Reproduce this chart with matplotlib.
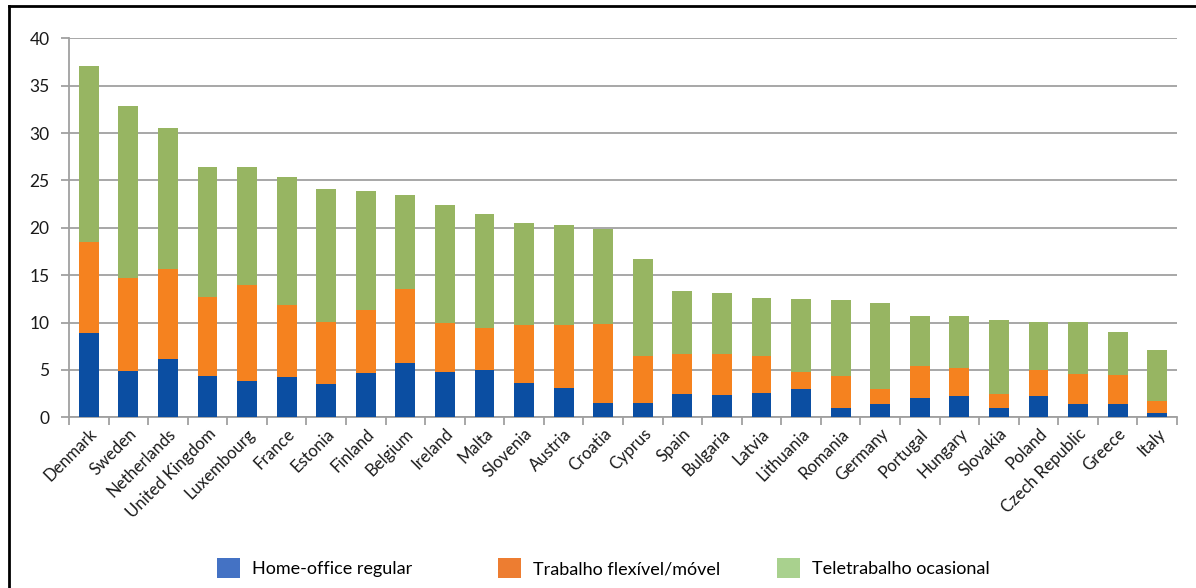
import matplotlib
matplotlib.use("Agg")
import matplotlib.pyplot as plt
from matplotlib.patches import Patch
from matplotlib.lines import Line2D
import numpy as np

plt.rcParams['font.family'] = ['Lato', 'DejaVu Sans']

countries = ['Denmark', 'Sweden', 'Netherlands', 'United Kingdom', 'Luxembourg', 'France',
             'Estonia', 'Finland', 'Belgium', 'Ireland', 'Malta', 'Slovenia', 'Austria',
             'Croatia', 'Cyprus', 'Spain', 'Bulgaria', 'Latvia', 'Lithuania', 'Romania',
             'Germany', 'Portugal', 'Hungary', 'Slovakia', 'Poland', 'Czech Republic',
             'Greece', 'Italy']

# cumulative tops
home_top = [8.9, 4.9, 6.2, 4.4, 3.8, 4.3, 3.5, 4.7, 5.7, 4.8, 5.0, 3.6, 3.1,
            1.5, 1.5, 2.5, 2.4, 2.6, 3.0, 1.0, 1.4, 2.0, 2.2, 1.0, 2.2, 1.4, 1.4, 0.5]
flex_top = [18.5, 14.7, 15.7, 12.7, 14.0, 11.8, 10.1, 11.3, 13.5, 9.9, 9.4, 9.7, 9.7,
            9.8, 6.5, 6.7, 6.7, 6.5, 4.8, 4.4, 3.0, 5.4, 5.2, 2.5, 5.0, 4.6, 4.5, 1.7]
total = [37.1, 32.9, 30.5, 26.4, 26.4, 25.4, 24.1, 23.9, 23.5, 22.4, 21.5, 20.5, 20.3,
         19.9, 16.7, 13.3, 13.1, 12.6, 12.5, 12.4, 12.1, 10.7, 10.7, 10.3, 10.1, 10.1,
         9.0, 7.1]

home = np.array(home_top)
flex = np.array(flex_top) - home
occ = np.array(total) - np.array(flex_top)

c_blue = '#0B4EA2'
c_orange = '#F5821F'
c_green = '#97B562'

fig = plt.figure(figsize=(11.96, 5.88), dpi=100)
ax = fig.add_axes([69/1196, 1-417.3/588, (1177-69)/1196, (417.3-38.3)/588])

x = np.arange(len(countries))
w = 0.5
ax.bar(x, home, w, color=c_blue, zorder=3)
ax.bar(x, flex, w, bottom=home, color=c_orange, zorder=3)
ax.bar(x, occ, w, bottom=home + flex, color=c_green, zorder=3)

ax.set_xlim(-0.5, len(countries) - 0.5)
ax.set_ylim(0, 40)
ax.set_yticks(np.arange(0, 41, 5))
ax.yaxis.grid(True, color='#A0A0A0', linewidth=1.3, zorder=0)
ax.set_axisbelow(True)

for s in ['top', 'right']:
    ax.spines[s].set_visible(False)
for s in ['left', 'bottom']:
    ax.spines[s].set_color('#A0A0A0')
    ax.spines[s].set_linewidth(1.3)

ax.set_xticks(x)
ax.set_xticklabels(countries, rotation=45, ha='right', rotation_mode='anchor', fontsize=12, color='#1a1a1a')
ax.tick_params(axis='x', length=0, pad=6)
ax.set_xticks(np.arange(-0.5, len(countries)), minor=True)
ax.tick_params(axis='x', which='minor', length=6, width=1.3, color='#A0A0A0')
ax.tick_params(axis='y', length=6, width=1.3, color='#A0A0A0', labelsize=12.5, pad=8, labelcolor='#1a1a1a')

# legend entries, placed separately as in the original
labels = ['Home-office regular', 'Trabalho flexível/móvel', 'Teletrabalho ocasional']
leg_cols = ['#4472C4', '#ED7D31', '#A9D18E']
leg_x = [222, 503, 782]
for lab, col, lx in zip(labels, leg_cols, leg_x):
    h = Patch(facecolor=col, edgecolor='none')
    fig.legend([h], [lab], loc='center left', bbox_to_anchor=(lx/1196 - 0.004, 1-568/588),
               frameon=False, fontsize=13, handlelength=1.25, handleheight=1.3,
               handletextpad=0.7, borderpad=0, borderaxespad=0)

# outer frame lines (left and top)
fig.add_artist(Line2D([9/1196, 9/1196], [0, 1-6/588], color='black', linewidth=2))
fig.add_artist(Line2D([9/1196, 1], [1-6/588, 1-6/588], color='black', linewidth=2))

fig.savefig('out.png', dpi=100)
